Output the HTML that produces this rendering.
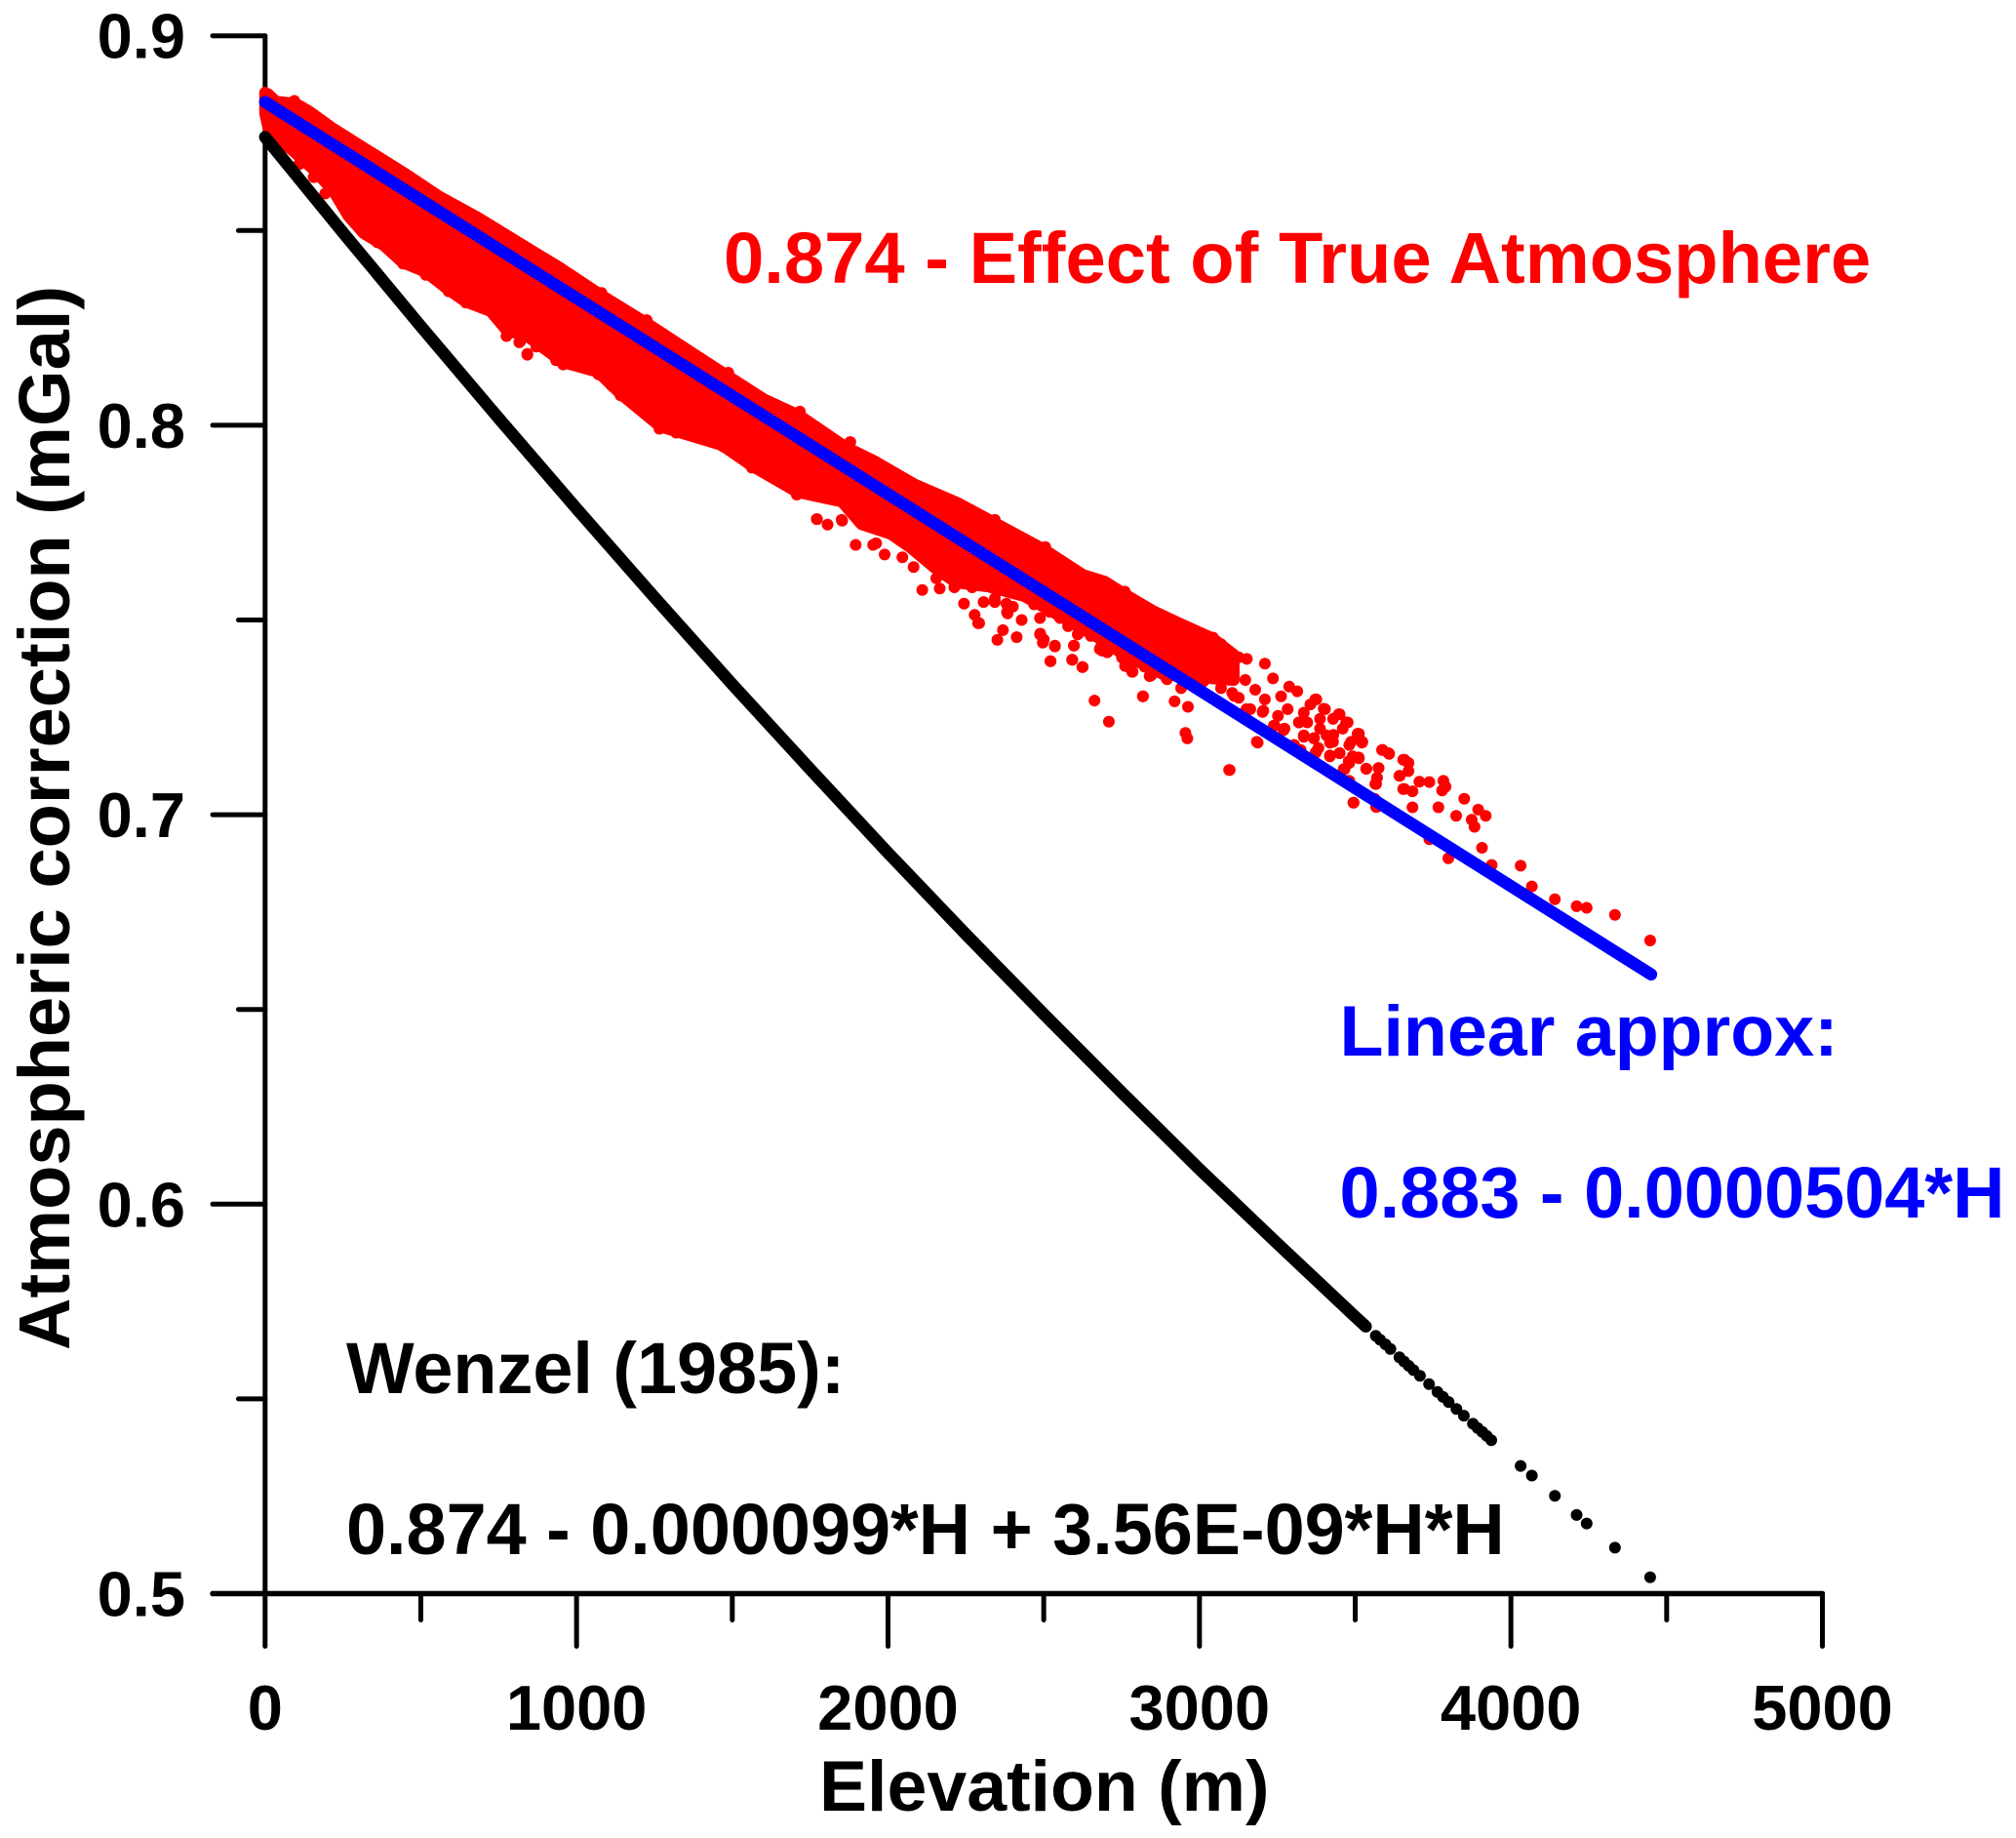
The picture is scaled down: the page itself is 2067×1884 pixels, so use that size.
<!DOCTYPE html>
<html lang="en">
<head>
<meta charset="utf-8">
<title>Atmospheric correction vs elevation</title>
<style>
html,body{margin:0;padding:0;background:#fff;}
svg{display:block;}
text{font-family:"Liberation Sans",Arial,sans-serif;font-weight:700;}
</style>
</head>
<body>
<svg id="chart" xmlns="http://www.w3.org/2000/svg" width="2067" height="1884" viewBox="0 0 2067 1884">
  <rect x="0" y="0" width="2067" height="1884" fill="#ffffff"/>
  <g id="axes"></g>
  <g id="marks"></g>
  <text x="840" y="1856" font-size="73.5" fill="#000">Elevation (m)</text>
  <text transform="translate(71,1384) rotate(-90)" font-size="74.1" fill="#000">Atmospheric correction (mGal)</text>
  <text x="742" y="290" font-size="74.2" fill="#ff0000">0.874 - Effect of True Atmosphere</text>
  <text x="1373.5" y="1082" font-size="73.6" fill="#0000ff">Linear approx:</text>
  <text x="1373.5" y="1248" font-size="73.9" fill="#0000ff">0.883 - 0.0000504*H</text>
  <text x="355" y="1428" font-size="73.8" fill="#000">Wenzel (1985):</text>
  <text x="355" y="1593" font-size="73.8" fill="#000">0.874 - 0.000099*H + 3.56E-09*H*H</text>
</svg>
<script>
// ---- axis data ----
const xMajorTicks = [0, 1000, 2000, 3000, 4000, 5000];
const xMinorTicks = [500, 1500, 2500, 3500, 4500];
const xTickLabels = ["0", "1000", "2000", "3000", "4000", "5000"];
const yMajorTicks = [0.5, 0.6, 0.7, 0.8, 0.9];
const yMinorTicks = [0.55, 0.65, 0.75, 0.85];
const yTickLabels = ["0.5", "0.6", "0.7", "0.8", "0.9"];

// ---- linear approximation (blue) ----
const linearElevation = [0, 4450];
const linearValues = [0.883, 0.659];

// ---- Wenzel (black): continuous part ----
const wenzelLineElevation = [0, 250, 500, 750, 1000, 1250, 1500, 1750, 2000, 2250, 2500, 2750, 3000, 3250, 3500, 3534];
const wenzelLineValues = [0.874, 0.8495, 0.8254, 0.8018, 0.7786, 0.7558, 0.7335, 0.7117, 0.6902, 0.6693, 0.6488, 0.6287, 0.609, 0.5899, 0.5711, 0.5686];

// ---- Wenzel (black): separate points ----
const wenzelDotElevation = [3566, 3580, 3597, 3613, 3642, 3657, 3672, 3687, 3708, 3737, 3764, 3782, 3800, 3825, 3849, 3878, 3893, 3908, 3922, 3937, 4031, 4067, 4141, 4211, 4243, 4334, 4447];
const wenzelDotValues = [0.5662, 0.5652, 0.564, 0.5628, 0.5607, 0.5596, 0.5585, 0.5574, 0.5559, 0.5538, 0.5518, 0.5505, 0.5492, 0.5474, 0.5457, 0.5436, 0.5425, 0.5415, 0.5405, 0.5394, 0.5328, 0.5303, 0.5251, 0.5202, 0.518, 0.5118, 0.5042];

// ---- true atmosphere (red): edges of the dense cloud of points ----
const cloudUpperElevation = [0, 10, 35, 98, 141, 214, 339, 455, 558, 683, 840, 943, 1081, 1225, 1382, 1488, 1601, 1717, 1864, 1958, 2083, 2227, 2343, 2500, 2625, 2697, 2760, 2851, 2939, 3042, 3110];
const cloudUpperValues = [0.885, 0.885, 0.8831, 0.8826, 0.8806, 0.8764, 0.8701, 0.8643, 0.8588, 0.8533, 0.8456, 0.8406, 0.8333, 0.8262, 0.818, 0.8125, 0.8067, 0.8024, 0.7944, 0.7907, 0.7849, 0.7799, 0.7749, 0.7681, 0.7616, 0.7598, 0.7566, 0.7523, 0.749, 0.7453, 0.7411];
const cloudLowerElevation = [0, 10, 48, 88, 157, 220, 267, 317, 380, 442, 517, 589, 643, 724, 777, 840, 956, 1069, 1144, 1269, 1467, 1561, 1708, 1852, 1915, 2009, 2072, 2147, 2219, 2322, 2438, 2553, 2679, 2760, 2885, 3011, 3110];
const cloudLowerValues = [0.8801, 0.8764, 0.8731, 0.8706, 0.8656, 0.8601, 0.8538, 0.8493, 0.8463, 0.8418, 0.8393, 0.8348, 0.8318, 0.8293, 0.8243, 0.823, 0.8162, 0.8137, 0.8079, 0.7997, 0.7949, 0.7897, 0.7829, 0.7804, 0.7746, 0.7721, 0.7686, 0.7636, 0.7596, 0.7586, 0.7561, 0.751, 0.7453, 0.741, 0.736, 0.7352, 0.7346];

// ---- true atmosphere (red): individually visible points ----
const redElevation = [
  109, 156, 193, 323, 360, 443, 516, 589, 616, 645, 694, 736, 777, 819, 842,
  775, 816, 842, 871, 934, 957, 1028, 1070, 1113, 1141, 1200, 1237, 1266, 1305, 1320, 1367, 1404, 1470, 1563, 1600, 1660, 1707, 1772, 1806, 1853, 1896, 1952,
  1771, 1851, 1989, 1962, 2046, 2082, 2110, 2166, 2155, 2244, 2289, 2278, 2383, 2401, 2307, 2343, 2489, 2500, 2536, 2521, 2591, 2625, 2597, 2609, 2688, 2751, 2785, 2845, 2894, 2818, 2521,
  2293, 2351, 2369, 2384, 2413, 2429, 2488, 2488, 2497, 2522, 2536, 2592, 2597, 2611, 2624, 2663, 2680, 2704, 2709, 2752, 2768, 2784, 2819, 2840, 2896, 2920, 2941, 2955, 2961, 2963,
  3097, 3111, 3151, 3187, 3203, 3239, 3270, 3303, 3319, 3335, 3368, 3375, 3375, 3399, 3419, 3419, 3430, 3447, 3450, 3463, 3471, 3479, 3479, 3487, 3495, 3508, 3511, 3522, 3535, 3562, 3567, 3569, 3570, 3575, 3588, 3607, 3642, 3658, 3658, 3671, 3671, 3684, 3684, 3706, 3738, 3738, 3767, 3779, 3783, 3790, 3799, 3824, 3850, 3874, 3883, 3895, 3907, 3919, 3938, 4031, 4067, 4141, 4211, 4243, 4334, 4447,
  3043, 3069, 3126, 3152, 3210, 3236, 3288, 3314, 3372, 3356, 3403, 3450, 3476, 3512, 3523, 3429, 3387, 3335, 3320, 3241, 3273, 3205, 3163, 3105, 3126, 3069, 3012, 3179, 3210, 3262, 3283, 3147, 3252, 3304, 3325, 3335, 3367, 3382, 3372, 3419, 3450, 3429, 3481, 3492, 3512, 3481, 3466, 3481, 3536, 3575, 3570, 3565, 3586, 3609, 3184, 3095, 3494, 3567, 3654, 3643, 3654, 3387, 3408, 3460, 3346,
  2213, 2270, 2343, 2380, 2382, 2469, 2519, 2552, 2578, 2651, 2683, 2751, 2761, 2824,
  2343, 2505, 2760, 1711, 1879, 1225, 1080, 1487, 1717, 94, 0
];
const redValues = [
  0.867, 0.8637, 0.8595, 0.849, 0.847, 0.8415, 0.8386, 0.8344, 0.8336, 0.8315, 0.8302, 0.8286, 0.8232, 0.8215, 0.8181,
  0.8229, 0.8213, 0.8183, 0.8202, 0.8167, 0.8156, 0.815, 0.8131, 0.8102, 0.8077, 0.8052, 0.8018, 0.7991, 0.8016, 0.7981, 0.8002, 0.7982, 0.7946, 0.7891, 0.7906, 0.786, 0.7822, 0.7759, 0.7745, 0.7755, 0.7693, 0.7693,
  0.7759, 0.7757, 0.7668, 0.7697, 0.7661, 0.7636, 0.7577, 0.7581, 0.7607, 0.7542, 0.7492, 0.7513, 0.7521, 0.7534, 0.7546, 0.7546, 0.7465, 0.745, 0.7432, 0.7394, 0.7398, 0.7379, 0.7434, 0.7463, 0.7421, 0.7408, 0.7367, 0.7358, 0.735, 0.7304, 0.7521,
  0.7492, 0.7449, 0.7474, 0.7517, 0.7456, 0.75, 0.7463, 0.7505, 0.7442, 0.7394, 0.7434, 0.7398, 0.7434, 0.7465, 0.7379, 0.7293, 0.7425, 0.7417, 0.7239, 0.7403, 0.7381, 0.7367, 0.7304, 0.7356, 0.7348, 0.7291, 0.7325, 0.721, 0.7196, 0.7277,
  0.7115, 0.7305, 0.7271, 0.7185, 0.7264, 0.7229, 0.7217, 0.7179, 0.7237, 0.7204, 0.7197, 0.7162, 0.7296, 0.7272, 0.7152, 0.7185, 0.7205, 0.7258, 0.7158, 0.7117, 0.7237, 0.7087, 0.7137, 0.7187, 0.7031, 0.7208, 0.7147, 0.7185, 0.7118, 0.7041, 0.7079, 0.702, 0.7095, 0.712, 0.7166, 0.7158, 0.71, 0.7066, 0.7141, 0.7112, 0.7133, 0.7019, 0.706, 0.7085, 0.7084, 0.6937, 0.7019, 0.7062, 0.7087, 0.7072, 0.6888, 0.6997, 0.7041, 0.6987, 0.6969, 0.7013, 0.6915, 0.6997, 0.6871, 0.6869, 0.6816, 0.6783, 0.6765, 0.6761, 0.6743, 0.6677,
  0.7455, 0.7438, 0.7404, 0.74, 0.7388, 0.735, 0.7329, 0.7317, 0.7296, 0.7283, 0.7271, 0.7258, 0.7237, 0.7208, 0.7187, 0.7246, 0.7246, 0.7262, 0.7237, 0.7229, 0.7221, 0.7267, 0.7271, 0.7313, 0.73, 0.7325, 0.7342, 0.7321, 0.7296, 0.7304, 0.7271, 0.7346, 0.7254, 0.7179, 0.7166, 0.72, 0.7196, 0.7171, 0.7158, 0.715, 0.7158, 0.7187, 0.7179, 0.715, 0.7145, 0.7133, 0.7117, 0.7087, 0.7118, 0.712, 0.7095, 0.7079, 0.7166, 0.7156, 0.7187, 0.7115, 0.7031, 0.702, 0.7141, 0.71, 0.7066, 0.7221, 0.7204, 0.7221, 0.7237,
  0.7584, 0.7584, 0.7555, 0.7542, 0.752, 0.754, 0.7521, 0.7505, 0.7484, 0.7459, 0.743, 0.7404, 0.7382, 0.738,
  0.7757, 0.7687, 0.7573, 0.8032, 0.7957, 0.827, 0.834, 0.8135, 0.8035, 0.8833, 0.8854
];

// ---- axis functions ----
const plotLeft = 271.8, plotRight = 1868.5, plotTop = 36.7, plotBottom = 1633.5;
const xDomainMax = 5000, yDomainMin = 0.5, yDomainMax = 0.9;
function xScale(h) { return plotLeft + (h / xDomainMax) * (plotRight - plotLeft); }
function yScale(v) { return plotTop + ((yDomainMax - v) / (yDomainMax - yDomainMin)) * (plotBottom - plotTop); }

const NS = 'http://www.w3.org/2000/svg';
const axes = document.getElementById('axes');
const marks = document.getElementById('marks');
function makeLine(parent, x1, y1, x2, y2, w) {
  const l = document.createElementNS(NS, 'line');
  l.setAttribute('x1', x1); l.setAttribute('y1', y1);
  l.setAttribute('x2', x2); l.setAttribute('y2', y2);
  l.setAttribute('stroke', '#000');
  l.setAttribute('stroke-width', w);
  l.setAttribute('stroke-linecap', 'round');
  parent.appendChild(l);
  return l;
}
function makeLabel(x, y, str, anchor) {
  const t = document.createElementNS(NS, 'text');
  t.setAttribute('x', x); t.setAttribute('y', y);
  t.setAttribute('font-size', '65');
  t.setAttribute('fill', '#000');
  t.setAttribute('text-anchor', anchor);
  t.textContent = str;
  axes.appendChild(t);
  return t;
}

// axes
const yAxisLine = makeLine(axes, xScale(0), yScale(0.9), xScale(0), plotBottom, 5);


const xAxisLine = makeLine(axes, 218, yScale(0.5), xScale(5000), yScale(0.5), 5.5);



xMajorTicks.forEach(function (h, i) {
  const tick = makeLine(axes, xScale(h), plotBottom, xScale(h), 1687.5, 5);
  
  
  const label = makeLabel(xScale(h), 1773, xTickLabels[i], 'middle');
  
  
});
xMinorTicks.forEach(function (h) {
  const tick = makeLine(axes, xScale(h), plotBottom, xScale(h), 1660.5, 5);
  
  
});
yMajorTicks.forEach(function (v, i) {
  const tick = makeLine(axes, 218, yScale(v), xScale(0), yScale(v), 5);
  
  
  const label = makeLabel(190, yScale(v) + 23, yTickLabels[i], 'end');
  
  
});
yMinorTicks.forEach(function (v) {
  const tick = makeLine(axes, 244.5, yScale(v), xScale(0), yScale(v), 5);
  
  
});

// red cloud
let cloudPoints = [];
cloudUpperElevation.forEach(function (h, i) {
  cloudPoints.push(xScale(h).toFixed(1) + ',' + yScale(cloudUpperValues[i]).toFixed(1));
});
for (let i = cloudLowerElevation.length - 1; i >= 0; i--) {
  cloudPoints.push(xScale(cloudLowerElevation[i]).toFixed(1) + ',' + yScale(cloudLowerValues[i]).toFixed(1));
}
const cloud = document.createElementNS(NS, 'polygon');


cloud.setAttribute('points', cloudPoints.join(' '));
cloud.setAttribute('fill', '#ff0000');
cloud.setAttribute('stroke', '#ff0000');
cloud.setAttribute('stroke-width', '12');
cloud.setAttribute('stroke-linejoin', 'round');
marks.appendChild(cloud);

// red points
redElevation.forEach(function (h, i) {
  const c = document.createElementNS(NS, 'circle');
  
  
  c.setAttribute('cx', xScale(h).toFixed(1));
  c.setAttribute('cy', yScale(redValues[i]).toFixed(1));
  c.setAttribute('r', '6');
  c.setAttribute('fill', '#ff0000');
  marks.appendChild(c);
});

// black line
const wenzelLine = document.createElementNS(NS, 'polyline');


wenzelLine.setAttribute('points', wenzelLineElevation.map(function (h, i) {
  return xScale(h).toFixed(1) + ',' + yScale(wenzelLineValues[i]).toFixed(1);
}).join(' '));
wenzelLine.setAttribute('fill', 'none');
wenzelLine.setAttribute('stroke', '#000');
wenzelLine.setAttribute('stroke-width', '12.5');
wenzelLine.setAttribute('stroke-linecap', 'round');
wenzelLine.setAttribute('stroke-linejoin', 'round');
marks.appendChild(wenzelLine);

// black points
wenzelDotElevation.forEach(function (h, i) {
  const c = document.createElementNS(NS, 'circle');
  
  
  c.setAttribute('cx', xScale(h).toFixed(1));
  c.setAttribute('cy', yScale(wenzelDotValues[i]).toFixed(1));
  c.setAttribute('r', '6');
  c.setAttribute('fill', '#000');
  marks.appendChild(c);
});

// blue line
const linearLine = document.createElementNS(NS, 'polyline');


linearLine.setAttribute('points', linearElevation.map(function (h, i) {
  return xScale(h).toFixed(1) + ',' + yScale(linearValues[i]).toFixed(1);
}).join(' '));
linearLine.setAttribute('fill', 'none');
linearLine.setAttribute('stroke', '#0000ff');
linearLine.setAttribute('stroke-width', '12.5');
linearLine.setAttribute('stroke-linecap', 'round');
marks.appendChild(linearLine);
</script>
</body>
</html>
